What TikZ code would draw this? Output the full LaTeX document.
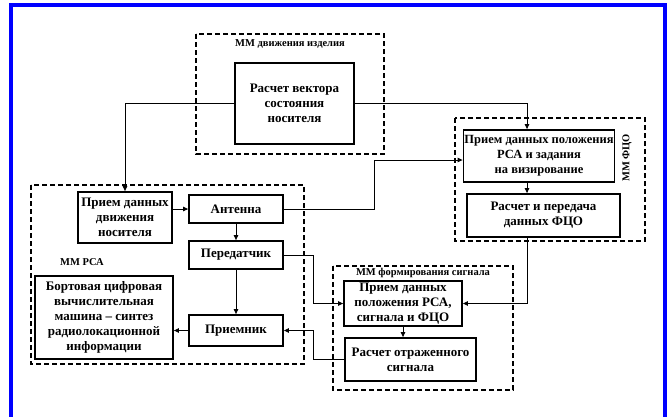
\documentclass[tikz,border=0pt]{standalone}
\usepackage{fontspec}
\setmainfont{Liberation Serif}
\usetikzlibrary{arrows.meta}

\begin{document}
\begin{tikzpicture}[x=1pt,y=-1pt,
  blok/.style={draw,line width=1.8pt,align=center,inner sep=1pt,font=\bfseries\fontsize{13}{15}\selectfont},
  grupa/.style={draw,line width=1.5pt,dash pattern=on 5pt off 3pt},
  metka/.style={font=\bfseries\fontsize{10.5}{12}\selectfont},
  svyaz/.style={line width=0.9pt,-{Triangle[length=5pt,width=4.5pt]}}]

\useasboundingbox (0,0) rectangle (669,416);
\draw[blue,line width=4pt] (11,430) -- (11,5) -- (665,5) -- (665,430);

\draw[grupa] (196,34) rectangle (384,154);
\draw[grupa] (455,118) rectangle (645,241);
\draw[grupa] (31,185) rectangle (304,364);
\draw[grupa] (333,266) rectangle (513,390);

\node[metka] (mdv) at (290,44) {ММ движения изделия};
\node[metka,rotate=90] (mfc) at (627,158) {ММ ФЦО};
\node[metka] (mrs) at (82,262) {ММ РСА};
\node[metka] (mfs) at (423,273) {ММ формирования сигнала};

\node[blok,minimum width=119pt,minimum height=81pt] (vek) at (294.5,103.5) {Расчет вектора\\состояния\\носителя};
\node[blok,minimum width=146pt,minimum height=52pt,font=\bfseries\fontsize{12.5}{15}\selectfont] (fc1) at (539,156) {Прием данных положения\\РСА и задания\\на визирование};
\node[blok,minimum width=153pt,minimum height=43pt] (fc2) at (543.5,215.5) {Расчет и передача\\данных ФЦО};
\node[blok,minimum width=94pt,minimum height=51pt] (pr) at (125,217.5) {Прием данных\\движения\\носителя};
\node[blok,minimum width=94pt,minimum height=28pt] (ant) at (236,209) {Антенна};
\node[blok,minimum width=94pt,minimum height=28pt] (per) at (236,255) {Передатчик};
\node[blok,minimum width=138pt,minimum height=83pt] (bcvm) at (104,317.5) {Бортовая цифровая\\вычислительная\\машина -- синтез\\радиолокационной\\информации};
\node[blok,minimum width=94pt,minimum height=31pt] (pri) at (236,330.5) {Приемник};
\node[blok,minimum width=118pt,minimum height=45pt] (sg1) at (403,303.5) {Прием данных\\положения РСА,\\сигнала и ФЦО};
\node[blok,minimum width=131pt,minimum height=43pt] (sg2) at (410.5,359.5) {Расчет отраженного\\сигнала};

\coordinate (kF) at (527,0);
\coordinate (kA) at (374,0);
\coordinate (kP) at (313,0);

\draw[svyaz] (vek.west) -| (pr.north);
\draw[svyaz] (vek.east) -| (kF |- fc1.north);
\draw[svyaz] (kF |- fc1.south) -- (kF |- fc2.north);
\draw[svyaz] (kF |- fc2.south) |- (sg1.east);
\draw[svyaz] (pr.east |- ant.west) -- (ant.west);
\draw[svyaz] (ant.south) -- (per.north);
\draw[svyaz] (per.south) -- (pri.north);
\draw[svyaz] (pri.west) -- (pri.west -| bcvm.east);
\draw[svyaz] (ant.east) -| ([yshift=-4pt]kA |- fc1.west) -- ([yshift=-4pt]fc1.west);
\draw[svyaz] (per.east) -| (kP |- sg1.west) -- (sg1.west);
\draw[svyaz] (sg2.west) -| (kP |- pri.east) -- (pri.east);
\draw[svyaz] (sg1.south) -- (sg1.south |- sg2.north);
\end{tikzpicture}
\end{document}
